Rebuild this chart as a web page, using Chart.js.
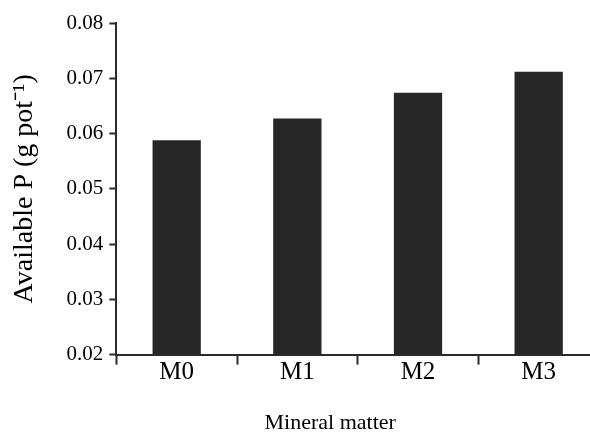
<!DOCTYPE html>
<html>
<head>
<meta charset="utf-8">
<script src="https://cdn.jsdelivr.net/npm/chart.js@4.4.1/dist/chart.umd.min.js"></script>
<style>
  html, body { margin: 0; padding: 0; background: #fff; overflow: hidden; }
  #wrap { width: 600px; height: 432px; }
</style>
</head>
<body>
<div id="wrap"><canvas id="c"></canvas></div>
<script>
const categories = ['M0', 'M1', 'M2', 'M3'];
const availableP = [0.0588, 0.0627, 0.0674, 0.0712];
const yTicks = [0.02, 0.03, 0.04, 0.05, 0.06, 0.07, 0.08];
const yTitle = 'Available P (g pot\u207B\u00B9)';
const xTitle = 'Mineral matter';

const FONT = "'Liberation Serif', 'Times New Roman', serif";
const AXIS = '#2a2a2a';

new Chart(document.getElementById('c'), {
  type: 'bar',
  data: {
    labels: categories,
    datasets: [{
      data: availableP,
      base: yTicks[0],
      backgroundColor: '#272727',
      borderWidth: 0,
      barPercentage: 0.4,
      categoryPercentage: 1.0
    }]
  },
  options: {
    responsive: true,
    maintainAspectRatio: false,
    animation: false,
    devicePixelRatio: 1,
    layout: { padding: { left: 8, right: 1, top: 23, bottom: -4 } },
    plugins: { legend: { display: false }, tooltip: { enabled: false } },
    scales: {
      x: {
        offset: true,
        grid: {
          offset: true,
          drawOnChartArea: false,
          drawTicks: true,
          tickLength: 10,
          tickWidth: 2,
          tickColor: AXIS
        },
        border: { display: true, color: AXIS, width: 2 },
        ticks: { color: '#000', font: { family: FONT, size: 25 }, padding: -7 },
        title: {
          display: true,
          text: xTitle + '\u00A0'.repeat(10),
          color: '#000',
          font: { family: FONT, size: 22 },
          padding: { top: 29, bottom: 0 }
        }
      },
      y: {
        min: yTicks[0],
        max: yTicks[yTicks.length - 1],
        afterBuildTicks: (scale) => { scale.ticks = yTicks.map(v => ({ value: v })); },
        grid: {
          drawOnChartArea: false,
          drawTicks: true,
          tickLength: 7,
          tickWidth: 2,
          tickColor: AXIS
        },
        border: { display: true, color: AXIS, width: 2 },
        ticks: {
          color: '#000',
          font: { family: FONT, size: 21 },
          padding: 6,
          callback: (v) => Number(v).toFixed(2)
        },
        title: {
          display: true,
          text: yTitle,
          color: '#000',
          font: { family: FONT, size: 28 },
          padding: { top: 0, bottom: 19 }
        }
      }
    }
  }
});
</script>
</body>
</html>
